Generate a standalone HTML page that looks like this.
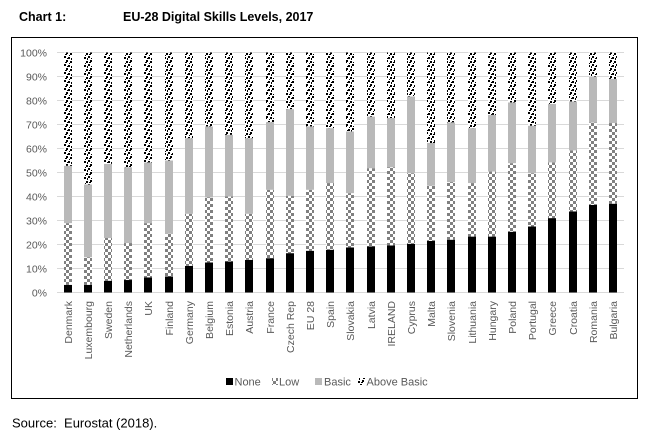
<!DOCTYPE html>
<html>
<head>
<meta charset="utf-8">
<style>
  html, body { margin:0; padding:0; background:#fff; }
  body { width:647px; height:438px; overflow:hidden; }
  svg { display:block; font-family:"Liberation Sans", Arial, sans-serif; }
</style>
</head>
<body>
<svg width="647" height="438" viewBox="0 0 647 438" xmlns="http://www.w3.org/2000/svg">
  <defs>
    <pattern id="low" patternUnits="userSpaceOnUse" width="6" height="6">
      <rect x="0" y="0" width="6" height="6" fill="#ffffff"/>
      <rect x="0" y="0" width="3" height="3" fill="#808080"/>
      <rect x="3" y="3" width="3" height="3" fill="#808080"/>
    </pattern>
    <pattern id="above" patternUnits="userSpaceOnUse" width="8" height="8">
      <rect x="0" y="0" width="8" height="8" fill="#ffffff"/>
      <rect x="0" y="0" width="2" height="2" fill="#000"/>
      <rect x="4" y="1" width="2" height="2" fill="#000"/>
      <rect x="2" y="4" width="2" height="2" fill="#000"/>
      <rect x="6" y="5" width="2" height="2" fill="#000"/>
      <rect x="7" y="2" width="1" height="2" fill="#000"/>
      <rect x="1" y="6" width="2" height="1" fill="#000"/>
      <rect x="5" y="7" width="1" height="1" fill="#000"/>
      <rect x="3" y="2" width="1" height="1" fill="#000"/>
    </pattern>
  </defs>

  <!-- Title -->
  <text x="19" y="21" font-size="12.5" font-weight="bold" fill="#000">Chart 1:</text>
  <text x="123" y="21" font-size="12.5" font-weight="bold" fill="#000">EU-28 Digital Skills Levels, 2017</text>

  <!-- Chart frame -->
  <rect x="11.5" y="37.5" width="626" height="361" fill="#fff" stroke="#000" stroke-width="1"/>

  <!-- Gridlines -->
  <g stroke="#d9d9d9" stroke-width="1">
    <line x1="57" y1="52.5" x2="624" y2="52.5"/>
    <line x1="57" y1="76.5" x2="624" y2="76.5"/>
    <line x1="57" y1="100.5" x2="624" y2="100.5"/>
    <line x1="57" y1="124.5" x2="624" y2="124.5"/>
    <line x1="57" y1="148.5" x2="624" y2="148.5"/>
    <line x1="57" y1="172.5" x2="624" y2="172.5"/>
    <line x1="57" y1="196.5" x2="624" y2="196.5"/>
    <line x1="57" y1="220.5" x2="624" y2="220.5"/>
    <line x1="57" y1="244.5" x2="624" y2="244.5"/>
    <line x1="57" y1="268.5" x2="624" y2="268.5"/>
    <line x1="57" y1="292.5" x2="624" y2="292.5"/>
  </g>

  <!-- Y axis labels -->
  <g font-size="10.5" fill="#595959" text-anchor="end">
    <text x="47" y="56.3">100%</text>
    <text x="47" y="80.3">90%</text>
    <text x="47" y="104.3">80%</text>
    <text x="47" y="128.3">70%</text>
    <text x="47" y="152.3">60%</text>
    <text x="47" y="176.3">50%</text>
    <text x="47" y="200.3">40%</text>
    <text x="47" y="224.3">30%</text>
    <text x="47" y="248.3">20%</text>
    <text x="47" y="272.3">10%</text>
    <text x="47" y="296.3">0%</text>
  </g>

  <!-- Bars: none / low / basic / above -->
  <g>
    <rect x="64" y="284.82" width="8" height="7.68" fill="#000"/>
    <rect x="64" y="223.14" width="8" height="61.68" fill="url(#low)"/>
    <rect x="64" y="165.78" width="8" height="57.36" fill="#b9b9b9"/>
    <rect x="64" y="52.5" width="8" height="113.28" fill="url(#above)"/>

    <rect x="84" y="284.82" width="8" height="7.68" fill="#000"/>
    <rect x="84" y="257.22" width="8" height="27.6" fill="url(#low)"/>
    <rect x="84" y="184.5" width="8" height="72.72" fill="#b9b9b9"/>
    <rect x="84" y="52.5" width="8" height="132" fill="url(#above)"/>

    <rect x="104" y="280.74" width="8" height="11.76" fill="#000"/>
    <rect x="104" y="238.02" width="8" height="42.72" fill="url(#low)"/>
    <rect x="104" y="163.86" width="8" height="74.16" fill="#b9b9b9"/>
    <rect x="104" y="52.5" width="8" height="111.36" fill="url(#above)"/>

    <rect x="124" y="280.02" width="8" height="12.48" fill="#000"/>
    <rect x="124" y="243.06" width="8" height="36.96" fill="url(#low)"/>
    <rect x="124" y="167.22" width="8" height="75.84" fill="#b9b9b9"/>
    <rect x="124" y="52.5" width="8" height="114.72" fill="url(#above)"/>

    <rect x="144" y="277.38" width="8" height="15.12" fill="#000"/>
    <rect x="144" y="223.14" width="8" height="54.24" fill="url(#low)"/>
    <rect x="144" y="162.42" width="8" height="60.72" fill="#b9b9b9"/>
    <rect x="144" y="52.5" width="8" height="109.92" fill="url(#above)"/>

    <rect x="165" y="276.42" width="8" height="16.08" fill="#000"/>
    <rect x="165" y="233.7" width="8" height="42.72" fill="url(#low)"/>
    <rect x="165" y="160.5" width="8" height="73.2" fill="#b9b9b9"/>
    <rect x="165" y="52.5" width="8" height="108" fill="url(#above)"/>

    <rect x="185" y="265.86" width="8" height="26.64" fill="#000"/>
    <rect x="185" y="213.78" width="8" height="52.08" fill="url(#low)"/>
    <rect x="185" y="138.18" width="8" height="75.6" fill="#b9b9b9"/>
    <rect x="185" y="52.5" width="8" height="85.68" fill="url(#above)"/>

    <rect x="205" y="262.5" width="8" height="30" fill="#000"/>
    <rect x="205" y="197.46" width="8" height="65.04" fill="url(#low)"/>
    <rect x="205" y="126.42" width="8" height="71.04" fill="#b9b9b9"/>
    <rect x="205" y="52.5" width="8" height="73.92" fill="url(#above)"/>

    <rect x="225" y="261.54" width="8" height="30.96" fill="#000"/>
    <rect x="225" y="196.5" width="8" height="65.04" fill="url(#low)"/>
    <rect x="225" y="134.82" width="8" height="61.68" fill="#b9b9b9"/>
    <rect x="225" y="52.5" width="8" height="82.32" fill="url(#above)"/>

    <rect x="245" y="259.86" width="8" height="32.64" fill="#000"/>
    <rect x="245" y="213.78" width="8" height="46.08" fill="url(#low)"/>
    <rect x="245" y="138.18" width="8" height="75.6" fill="#b9b9b9"/>
    <rect x="245" y="52.5" width="8" height="85.68" fill="url(#above)"/>

    <rect x="266" y="258.18" width="8" height="34.32" fill="#000"/>
    <rect x="266" y="189.78" width="8" height="68.4" fill="url(#low)"/>
    <rect x="266" y="122.1" width="8" height="67.68" fill="#b9b9b9"/>
    <rect x="266" y="52.5" width="8" height="69.6" fill="url(#above)"/>

    <rect x="286" y="253.14" width="8" height="39.36" fill="#000"/>
    <rect x="286" y="195.78" width="8" height="57.36" fill="url(#low)"/>
    <rect x="286" y="109.14" width="8" height="86.64" fill="#b9b9b9"/>
    <rect x="286" y="52.5" width="8" height="56.64" fill="url(#above)"/>

    <rect x="306" y="250.74" width="8" height="41.76" fill="#000"/>
    <rect x="306" y="189.78" width="8" height="60.96" fill="url(#low)"/>
    <rect x="306" y="126.42" width="8" height="63.36" fill="#b9b9b9"/>
    <rect x="306" y="52.5" width="8" height="73.92" fill="url(#above)"/>

    <rect x="326" y="249.78" width="8" height="42.72" fill="#000"/>
    <rect x="326" y="183.06" width="8" height="66.72" fill="url(#low)"/>
    <rect x="326" y="128.1" width="8" height="54.96" fill="#b9b9b9"/>
    <rect x="326" y="52.5" width="8" height="75.6" fill="url(#above)"/>

    <rect x="346" y="247.38" width="8" height="45.12" fill="#000"/>
    <rect x="346" y="193.14" width="8" height="54.24" fill="url(#low)"/>
    <rect x="346" y="131.46" width="8" height="61.68" fill="#b9b9b9"/>
    <rect x="346" y="52.5" width="8" height="78.96" fill="url(#above)"/>

    <rect x="367" y="246.42" width="8" height="46.08" fill="#000"/>
    <rect x="367" y="168.18" width="8" height="78.24" fill="url(#low)"/>
    <rect x="367" y="116.58" width="8" height="51.6" fill="#b9b9b9"/>
    <rect x="367" y="52.5" width="8" height="64.08" fill="url(#above)"/>

    <rect x="387" y="245.46" width="8" height="47.04" fill="#000"/>
    <rect x="387" y="167.22" width="8" height="78.24" fill="url(#low)"/>
    <rect x="387" y="118.02" width="8" height="49.2" fill="#b9b9b9"/>
    <rect x="387" y="52.5" width="8" height="65.52" fill="url(#above)"/>

    <rect x="407" y="243.78" width="8" height="48.72" fill="#000"/>
    <rect x="407" y="173.22" width="8" height="70.56" fill="url(#low)"/>
    <rect x="407" y="96.42" width="8" height="76.8" fill="#b9b9b9"/>
    <rect x="407" y="52.5" width="8" height="43.92" fill="url(#above)"/>

    <rect x="427" y="240.9" width="8" height="51.6" fill="#000"/>
    <rect x="427" y="185.7" width="8" height="55.2" fill="url(#low)"/>
    <rect x="427" y="142.98" width="8" height="42.72" fill="#b9b9b9"/>
    <rect x="427" y="52.5" width="8" height="90.48" fill="url(#above)"/>

    <rect x="447" y="239.7" width="8" height="52.8" fill="#000"/>
    <rect x="447" y="182.1" width="8" height="57.6" fill="url(#low)"/>
    <rect x="447" y="122.34" width="8" height="59.76" fill="#b9b9b9"/>
    <rect x="447" y="52.5" width="8" height="69.84" fill="url(#above)"/>

    <rect x="468" y="236.58" width="8" height="55.92" fill="#000"/>
    <rect x="468" y="183.06" width="8" height="53.52" fill="url(#low)"/>
    <rect x="468" y="128.1" width="8" height="54.96" fill="#b9b9b9"/>
    <rect x="468" y="52.5" width="8" height="75.6" fill="url(#above)"/>

    <rect x="488" y="236.58" width="8" height="55.92" fill="#000"/>
    <rect x="488" y="171.54" width="8" height="65.04" fill="url(#low)"/>
    <rect x="488" y="114.9" width="8" height="56.64" fill="#b9b9b9"/>
    <rect x="488" y="52.5" width="8" height="62.4" fill="url(#above)"/>

    <rect x="508" y="231.78" width="8" height="60.72" fill="#000"/>
    <rect x="508" y="163.14" width="8" height="68.64" fill="url(#low)"/>
    <rect x="508" y="102.42" width="8" height="60.72" fill="#b9b9b9"/>
    <rect x="508" y="52.5" width="8" height="49.92" fill="url(#above)"/>

    <rect x="528" y="226.5" width="8" height="66" fill="#000"/>
    <rect x="528" y="173.22" width="8" height="53.28" fill="url(#low)"/>
    <rect x="528" y="125.7" width="8" height="47.52" fill="#b9b9b9"/>
    <rect x="528" y="52.5" width="8" height="73.2" fill="url(#above)"/>

    <rect x="548" y="218.1" width="8" height="74.4" fill="#000"/>
    <rect x="548" y="162.42" width="8" height="55.68" fill="url(#low)"/>
    <rect x="548" y="103.86" width="8" height="58.56" fill="#b9b9b9"/>
    <rect x="548" y="52.5" width="8" height="51.36" fill="url(#above)"/>

    <rect x="569" y="211.38" width="8" height="81.12" fill="#000"/>
    <rect x="569" y="150.42" width="8" height="60.96" fill="url(#low)"/>
    <rect x="569" y="101.46" width="8" height="48.96" fill="#b9b9b9"/>
    <rect x="569" y="52.5" width="8" height="48.96" fill="url(#above)"/>

    <rect x="589" y="204.9" width="8" height="87.6" fill="#000"/>
    <rect x="589" y="122.58" width="8" height="82.32" fill="url(#low)"/>
    <rect x="589" y="76.5" width="8" height="46.08" fill="#b9b9b9"/>
    <rect x="589" y="52.5" width="8" height="24" fill="url(#above)"/>

    <rect x="609" y="203.7" width="8" height="88.8" fill="#000"/>
    <rect x="609" y="123.06" width="8" height="80.64" fill="url(#low)"/>
    <rect x="609" y="78.9" width="8" height="44.16" fill="#b9b9b9"/>
    <rect x="609" y="52.5" width="8" height="26.4" fill="url(#above)"/>
  </g>

  <!-- X axis labels (rotated) -->
  <g font-size="10.5" fill="#595959" text-anchor="end">
    <text transform="translate(72,301) rotate(-90)">Denmark</text>
    <text transform="translate(92,301) rotate(-90)">Luxembourg</text>
    <text transform="translate(112,301) rotate(-90)">Sweden</text>
    <text transform="translate(132,301) rotate(-90)">Netherlands</text>
    <text transform="translate(152,301) rotate(-90)">UK</text>
    <text transform="translate(173,301) rotate(-90)">Finland</text>
    <text transform="translate(193,301) rotate(-90)">Germany</text>
    <text transform="translate(213,301) rotate(-90)">Belgium</text>
    <text transform="translate(233,301) rotate(-90)">Estonia</text>
    <text transform="translate(253,301) rotate(-90)">Austria</text>
    <text transform="translate(274,301) rotate(-90)">France</text>
    <text transform="translate(294,301) rotate(-90)">Czech Rep</text>
    <text transform="translate(314,301) rotate(-90)">EU 28</text>
    <text transform="translate(334,301) rotate(-90)">Spain</text>
    <text transform="translate(354,301) rotate(-90)">Slovakia</text>
    <text transform="translate(375,301) rotate(-90)">Latvia</text>
    <text transform="translate(395,301) rotate(-90)">IRELAND</text>
    <text transform="translate(415,301) rotate(-90)">Cyprus</text>
    <text transform="translate(435,301) rotate(-90)">Malta</text>
    <text transform="translate(455,301) rotate(-90)">Slovenia</text>
    <text transform="translate(476,301) rotate(-90)">Lithuania</text>
    <text transform="translate(496,301) rotate(-90)">Hungary</text>
    <text transform="translate(516,301) rotate(-90)">Poland</text>
    <text transform="translate(536,301) rotate(-90)">Portugal</text>
    <text transform="translate(556,301) rotate(-90)">Greece</text>
    <text transform="translate(577,301) rotate(-90)">Croatia</text>
    <text transform="translate(597,301) rotate(-90)">Romania</text>
    <text transform="translate(617,301) rotate(-90)">Bulgaria</text>
  </g>

  <!-- Legend -->
  <rect x="226" y="378" width="7" height="7" fill="#000"/>
  <text x="234.5" y="385.5" font-size="11" fill="#595959">None</text>
  <rect x="272" y="378" width="6" height="7" fill="url(#low)"/>
  <text x="279" y="385.5" font-size="11" fill="#595959">Low</text>
  <rect x="315" y="378" width="7" height="7" fill="#b9b9b9"/>
  <text x="324" y="385.5" font-size="11" fill="#595959">Basic</text>
  <rect x="358" y="378" width="7" height="7" fill="url(#above)"/>
  <text x="366.5" y="385.5" font-size="11" fill="#595959">Above Basic</text>

  <!-- Source -->
  <text x="12" y="427.5" font-size="13" fill="#000" xml:space="preserve">Source:  Eurostat (2018).</text>
</svg>
</body>
</html>
